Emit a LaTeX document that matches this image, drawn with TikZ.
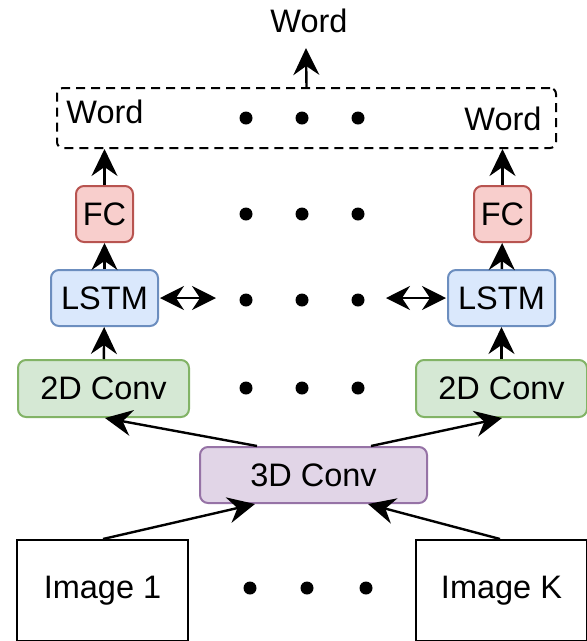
\documentclass[tikz,border=0pt]{standalone}
\usepackage{fontspec}
\setmainfont{Liberation Sans}
\usetikzlibrary{arrows.meta}
\definecolor{fcfill}{HTML}{F8CECC}\definecolor{fcdraw}{HTML}{B85450}
\definecolor{lsfill}{HTML}{DAE8FC}\definecolor{lsdraw}{HTML}{6C8EBF}
\definecolor{cvfill}{HTML}{D5E8D4}\definecolor{cvdraw}{HTML}{82B366}
\definecolor{tdfill}{HTML}{E1D5E7}\definecolor{tddraw}{HTML}{9673A6}
\tikzset{
  lbl/.style={font=\fontsize{32.5}{38}\selectfont, inner sep=0pt},
  blk/.style={lbl, rounded corners=8pt, line width=2pt, minimum height=56pt},
  fcbox/.style={blk, fill=fcfill, draw=fcdraw, minimum width=57pt},
  lsbox/.style={blk, fill=lsfill, draw=lsdraw, minimum width=107pt},
  cvbox/.style={blk, fill=cvfill, draw=cvdraw, minimum width=171pt, minimum height=57pt},
  tdbox/.style={blk, fill=tdfill, draw=tddraw, minimum width=227pt},
  imbox/.style={lbl, draw, line width=2pt, minimum width=171pt, minimum height=101pt},
  dot/.style={circle, fill=black, inner sep=0pt, minimum size=13pt},
  arr/.style={line width=2.4pt, -{Stealth[length=27pt,width=26pt,inset=9pt]}},
  darr/.style={line width=2.4pt, {Stealth[length=24pt,width=24pt,inset=8pt]}-{Stealth[length=24pt,width=24pt,inset=8pt]}},
}
\begin{document}
\begin{tikzpicture}[x=1pt,y=-1pt]
\useasboundingbox (0,0) rectangle (587,641);
% output box
\node[draw, line width=2pt, dash pattern=on 9pt off 6pt, rounded corners=6pt, minimum width=499pt, minimum height=60pt, inner sep=0pt] (out) at (306.5,118) {};
\node[lbl] (wtop) at (309,21) {Word};
\node[lbl] (w1) at (105,112) {Word};
\node[lbl] (wk) at (503,119) {Word};
% column 1
\node[fcbox] (fc1) at (104.5,214) {FC};
\node[lsbox] (ls1) at (104.5,298) {LSTM};
\node[cvbox] (cv1) at (103.5,388.5) {2D Conv};
% column K
\node[fcbox] (fck) at (502.5,214) {FC};
\node[lsbox] (lsk) at (501.5,298) {LSTM};
\node[cvbox] (cvk) at (501.5,388.5) {2D Conv};
% 3D conv
\node[tdbox] (td) at (313.5,475) {3D Conv};
% images
\node[imbox] (im1) at (102.5,590.5) {Image 1};
\node[imbox] (imk) at (501.5,590.5) {Image K};
% dots
\foreach \r/\y in {a/118,b/214,c/300,d/388}{
  \node[dot] (\r1) at (246,\y) {};
  \node[dot] (\r2) at (302,\y) {};
  \node[dot] (\r3) at (358,\y) {};
}
\node[dot] (e1) at (250,588) {};
\node[dot] (e2) at (307,588) {};
\node[dot] (e3) at (366,588) {};
% arrow endpoints
\coordinate (topend) at (306,48);
\coordinate (l1) at (160,298);
\coordinate (l2) at (216,298);
\coordinate (r1) at (386,298);
\coordinate (r2) at (446,298);
% connectors
\draw[arr] (out.north) -- (topend);
\draw[arr] (fc1.north) -- (fc1.north |- out.south);
\draw[arr] (fck.north) -- (fck.north |- out.south);
\draw[arr] (ls1) -- (fc1);
\draw[arr] (lsk) -- (fck);
\draw[arr] (cv1) -- (ls1);
\draw[arr] (cvk) -- (lsk);
\draw[darr] (l1) -- (l2);
\draw[darr] (r1) -- (r2);
\draw[arr] (td.north -| 257,0) -- (cv1.south -| 105,0);
\draw[arr] (td.north -| 371,0) -- (cvk.south -| 502,0);
\draw[arr] (im1.north -| 103,0) -- (td.south -| 255,0);
\draw[arr] (imk.north -| 500,0) -- (td.south -| 368,0);
\end{tikzpicture}
\end{document}
